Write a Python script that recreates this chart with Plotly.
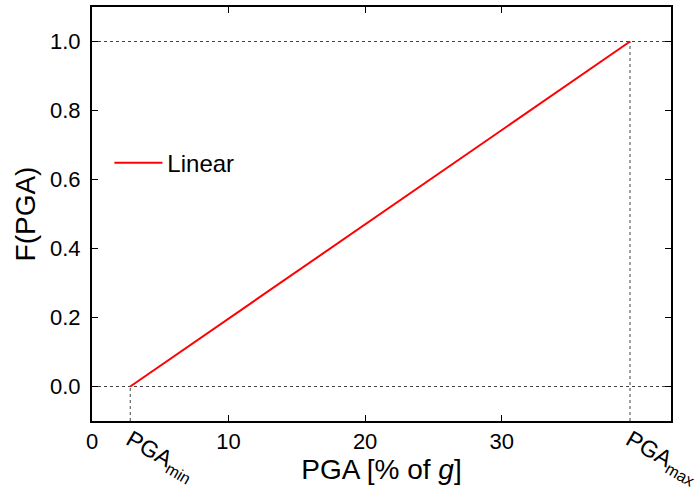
import plotly.graph_objects as go

# Data
pga_min = 2.8
pga_max = 39.4
line_x = [pga_min, pga_max]
line_y = [0.0, 1.0]
series_name = "Linear"
x_ticks = [0, 10, 20, 30]
y_ticks = [0.0, 0.2, 0.4, 0.6, 0.8, 1.0]
pga_tick_vals = [pga_min, pga_max]
pga_tick_text = ["PGA<sub>min</sub>", "PGA<sub>max</sub>"]
x_range = [0, 42.4]
y_range = [-0.1, 1.1]

FONT = "Liberation Sans, Arial, sans-serif"

fig = go.Figure()
fig.add_trace(go.Scatter(x=line_x, y=line_y, mode="lines", name=series_name,
                         line=dict(color="#ff0000", width=2)))
# dummy trace for second x-axis
fig.add_trace(go.Scatter(x=pga_tick_vals, y=[None, None], xaxis="x2", showlegend=False,
                         hoverinfo="skip"))

dot = dict(color="#444444", width=1, dash="dot")
shapes = [
    dict(type="line", xref="paper", x0=0, x1=1, yref="y", y0=line_y[0], y1=line_y[0], line=dot, layer="below"),
    dict(type="line", xref="paper", x0=0, x1=1, yref="y", y0=line_y[-1], y1=line_y[-1], line=dot, layer="below"),
    dict(type="line", xref="x", x0=pga_min, x1=pga_min, yref="y", y0=y_range[0], y1=line_y[0], line=dot, layer="below"),
    dict(type="line", xref="x", x0=pga_max, x1=pga_max, yref="y", y0=y_range[0], y1=line_y[-1], line=dot, layer="below"),
]

fig.update_layout(
    width=697, height=491,
    margin=dict(l=92, r=26, t=7, b=70),
    paper_bgcolor="white", plot_bgcolor="white",
    font=dict(family=FONT, size=22, color="black"),
    shapes=shapes,
    showlegend=True,
    legend=dict(x=0.03, y=0.623, xanchor="left", yanchor="middle", itemwidth=48,
                bgcolor="rgba(0,0,0,0)", font=dict(size=24)),
    xaxis=dict(range=x_range, tickvals=x_ticks, ticks="inside", ticklen=6, tickwidth=1,
               tickcolor="black", showline=True, linewidth=2, linecolor="black",
               mirror="ticks", showgrid=False, zeroline=False, automargin=False,
               tickfont=dict(size=22),
               title=dict(text="PGA [% of <i>g</i>]", font=dict(size=28), standoff=4)),
    xaxis2=dict(range=x_range, overlaying="x", anchor="y", side="bottom",
                tickvals=pga_tick_vals, ticktext=pga_tick_text, tickangle=30,
                ticks="", showline=False, showgrid=False, zeroline=False,
                ticklabeloverflow="allow", automargin=False,
                tickfont=dict(size=23)),
    yaxis=dict(range=y_range, tickvals=y_ticks, tickformat=".1f", ticks="inside",
               ticklen=6, tickwidth=1, tickcolor="black", showline=True, linewidth=2,
               linecolor="black", mirror="ticks", showgrid=False, zeroline=False,
               ticklabelstandoff=5, automargin=False,
               tickfont=dict(size=22),
               title=dict(text="F(PGA)", font=dict(size=28), standoff=6)),
)

fig.write_html("out.html")
